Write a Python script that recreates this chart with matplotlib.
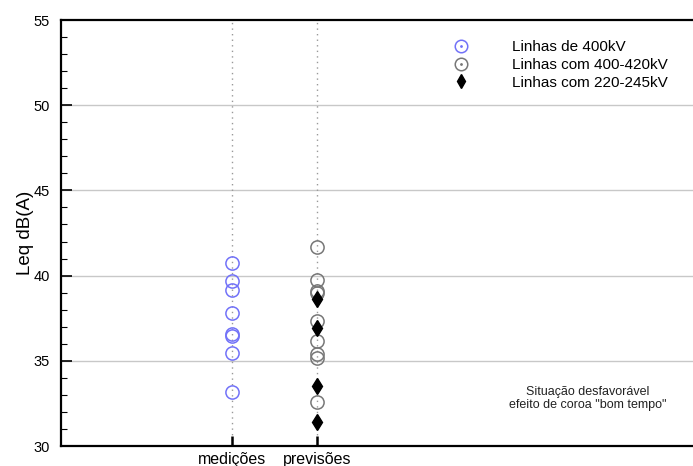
import matplotlib
matplotlib.use('Agg')
import matplotlib.pyplot as plt
from matplotlib.lines import Line2D
from matplotlib.ticker import MultipleLocator

plt.rcParams['font.family'] = ['Liberation Sans', 'DejaVu Sans']

# categories on the x axis
categories = ['medições', 'previsões']
cat_pos = [2, 3]

# measured levels, 400 kV lines (blue)
medicoes_400 = [40.74, 39.67, 39.18, 37.82, 36.56, 36.46, 35.48, 33.15]
# predictions, 400-420 kV lines (grey circles)
previsoes_400_420 = [41.65, 39.77, 39.08, 38.95, 37.33, 36.17, 35.39, 35.16, 32.6]
# predictions, 220-245 kV lines (black diamonds)
previsoes_220_245 = [38.6, 36.9, 33.54, 31.4]

blue = '#7272f8'
grey = '#777777'

fig = plt.figure(figsize=(6.93, 4.66), dpi=100)
ax = fig.add_axes([61 / 693, 20 / 466, 641 / 693, 426 / 466])

# background grid
for y in [35, 40, 45, 50]:
    ax.axhline(y, color='#c8c8c8', linewidth=1, zorder=0)
for x in cat_pos:
    ax.axvline(x, color='#999999', linewidth=1, linestyle=(0, (1, 3)), zorder=0)

ax.plot([cat_pos[0]] * len(medicoes_400), medicoes_400, linestyle='none',
        marker='o', markersize=9.5, markerfacecolor='none',
        markeredgecolor=blue, markeredgewidth=1.1, zorder=3)
ax.plot([cat_pos[1]] * len(previsoes_400_420), previsoes_400_420, linestyle='none',
        marker='o', markersize=9.5, markerfacecolor='none',
        markeredgecolor=grey, markeredgewidth=1.1, zorder=3)
ax.plot([cat_pos[1]] * len(previsoes_220_245), previsoes_220_245, linestyle='none',
        marker='d', markersize=8, color='black', zorder=4)

ax.set_xlim(0, 7.5)
ax.set_ylim(30, 55)
ax.set_xticks(cat_pos)
ax.set_xticklabels(categories, fontsize=11.5)
ax.yaxis.set_major_locator(MultipleLocator(5))
ax.yaxis.set_minor_locator(MultipleLocator(1))
ax.tick_params(axis='y', which='major', direction='in', length=8, width=1.2, labelsize=10.5, pad=8)
ax.tick_params(axis='y', which='minor', direction='in', length=4, width=0.8)
ax.tick_params(axis='x', which='major', direction='in', length=7, width=1.8, pad=4)
ax.set_ylabel('Leq dB(A)', fontsize=13.5, labelpad=0)

for side in ['left', 'top', 'bottom', 'right']:
    ax.spines[side].set_linewidth(1.6)

# legend, markers with a small centre dot
dot = dict(linestyle='none', marker='.', markersize=2)
h_blue = (Line2D([], [], linestyle='none', marker='o', markersize=9, markerfacecolor='none',
                 markeredgecolor=blue, markeredgewidth=1.1),
          Line2D([], [], color=blue, **dot))
h_grey = (Line2D([], [], linestyle='none', marker='o', markersize=9, markerfacecolor='none',
                 markeredgecolor=grey, markeredgewidth=1.1),
          Line2D([], [], color=grey, **dot))
h_diam = Line2D([], [], linestyle='none', marker='d', markersize=7.5, color='black')
ax.legend([h_blue, h_grey, h_diam],
          ['Linhas de 400kV', 'Linhas com 400-420kV', 'Linhas com 220-245kV'],
          loc='upper left', bbox_to_anchor=(0.585, 0.985), frameon=False, fontsize=11,
          handlelength=1.5, handletextpad=2.6, labelspacing=0.25)

ax.text(0.822, 0.112, 'Situação desfavorável\nefeito de coroa "bom tempo"',
        transform=ax.transAxes, ha='center', va='center', fontsize=9,
        linespacing=1.05, color='#222222')

fig.savefig('out.png', dpi=100)
